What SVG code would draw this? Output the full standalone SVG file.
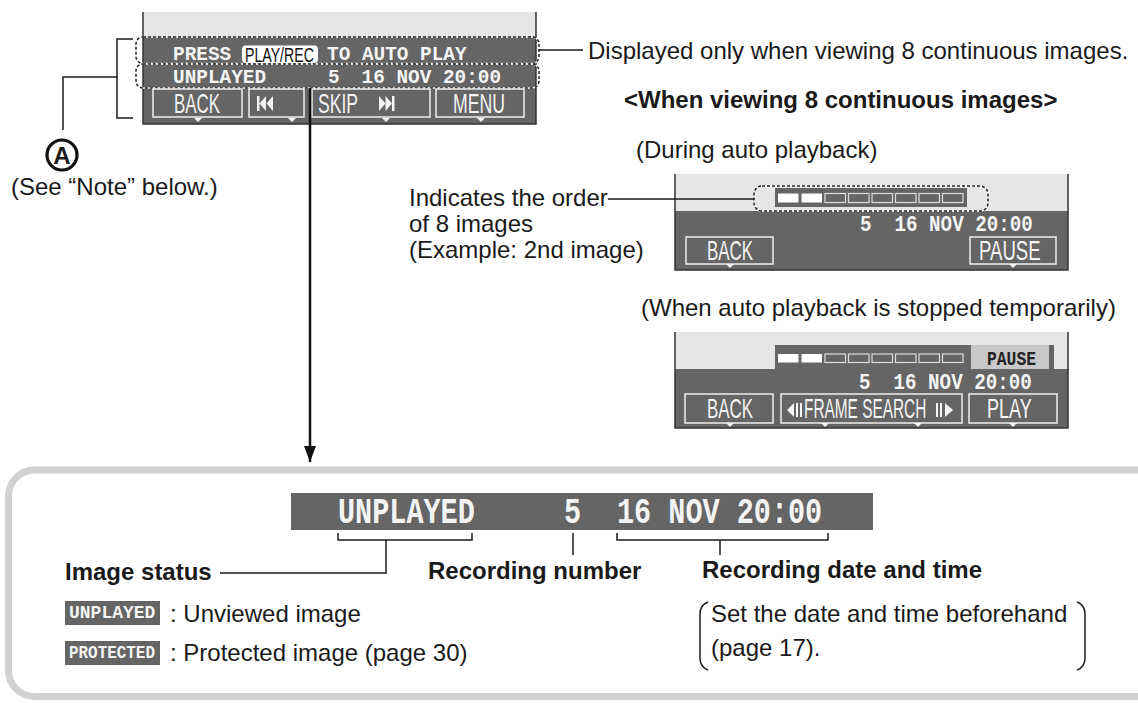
<svg xmlns="http://www.w3.org/2000/svg" width="1138" height="703" viewBox="0 0 1138 703">
<defs>
<style>
.t{font-family:"Liberation Sans",Arial,sans-serif;font-size:24px;fill:#1a1a1a}
.b{font-weight:bold}
.mono{font-family:"Liberation Mono","Courier New",monospace;font-weight:bold;fill:#f4f4f4}
.btn{font-family:"Liberation Sans",Arial,sans-serif;font-size:28px;fill:#f4f4f4}
.scr{fill:#656565}
.top{fill:#e6e6e6}
.edge{fill:none;stroke:#333;stroke-width:1.5}
.bbox{fill:none;stroke:#eeeeee;stroke-width:1.5}
.tri{fill:#f4f4f4}
.ico{fill:#f4f4f4}
.ln{fill:none;stroke:#1a1a1a;stroke-width:1.5}
.dashW{fill:none;stroke:#ffffff;stroke-width:1.5}
.dashK{fill:none;stroke:#222;stroke-width:1.5;stroke-dasharray:3 2}
.cellE{fill:none;stroke:#dddddd;stroke-width:1.2}
.cellF{fill:#ffffff}
</style>
<marker id="ah" viewBox="0 0 16 12" refX="16" refY="6" markerWidth="16" markerHeight="12" markerUnits="userSpaceOnUse" orient="auto">
<path d="M0,0 L16,6 L0,12 z" fill="#111"/>
</marker>
</defs>
<rect width="1138" height="703" fill="#fff"/>

<g id="screen-main">
<rect class="top" x="143" y="12" width="393" height="24"/>
<rect class="scr" x="143" y="36" width="393" height="88"/>
<path class="edge" d="M143,12 V124 H536 V12"/>
<rect class="dashW" x="136" y="37" width="403" height="26.5" rx="7"/>
<rect class="dashK" x="136" y="37" width="403" height="26.5" rx="7"/>
<rect class="dashW" x="136" y="64" width="403" height="24" rx="7"/>
<rect class="dashK" x="136" y="64" width="403" height="24" rx="7"/>
<text class="mono" x="173" y="60" font-size="19.4">PRESS</text>
<rect x="242" y="45.5" width="76" height="17.5" rx="4" fill="#fff"/>
<text class="btn" transform="translate(245,62) scale(0.674,1)" style="fill:#111;font-size:21px">PLAY/REC</text>
<text class="mono" x="327" y="60" font-size="19.4">TO AUTO PLAY</text>
<text class="mono" x="173" y="83" font-size="19.4">UNPLAYED</text>
<text class="mono" x="328" y="83" font-size="19.4">5</text>
<text class="mono" x="361.5" y="83" font-size="19.4">16 NOV 20:00</text>
<rect class="bbox" x="153" y="89" width="89" height="28"/>
<rect class="bbox" x="249" y="89" width="55" height="28"/>
<rect class="bbox" x="312" y="89" width="118" height="28"/>
<rect class="bbox" x="436" y="89" width="88" height="28"/>
<text class="btn" transform="translate(174,113) scale(0.604,1)">BACK</text>
<text class="btn" transform="translate(318,113) scale(0.627,1)">SKIP</text>
<text class="btn" transform="translate(453,113) scale(0.631,1)">MENU</text>
<rect class="ico" x="257" y="96" width="2.5" height="15"/>
<polygon class="ico" points="266,96 266,111 259.5,103.5"/>
<polygon class="ico" points="273,96 273,111 266.5,103.5"/>
<polygon class="ico" points="379,96 379,111 385.5,103.5"/>
<polygon class="ico" points="385.5,96 385.5,111 392,103.5"/>
<rect class="ico" x="392" y="96" width="2.5" height="15"/>
<polygon class="tri" points="194,118 202,118 198,122"/>
<polygon class="tri" points="288,118 296,118 292,122"/>
<polygon class="tri" points="382,118 390,118 386,122"/>
<polygon class="tri" points="477,118 485,118 481,122"/>
</g>

<g id="note-a">
<circle cx="62" cy="155" r="15" fill="none" stroke="#111" stroke-width="3.2"/>
<text class="t b" x="62" y="163.5" text-anchor="middle">A</text>
<text class="t" x="11" y="195">(See “Note” below.)</text>
</g>

<g id="label-displayed">
<text class="t" x="588" y="58.5">Displayed only when viewing 8 continuous images.</text>
</g>
<g id="heading">
<text class="t b" x="624" y="108">&lt;When viewing 8 continuous images&gt;</text>
</g>
<g id="caption-auto">
<text class="t" x="636" y="158">(During auto playback)</text>
</g>

<g id="screen-auto">
<rect class="top" x="675" y="174" width="393" height="37"/>
<rect class="scr" x="675" y="211" width="393" height="59"/>
<path class="edge" d="M675,174 V270 H1068 V174"/>
<rect class="scr" x="775" y="188" width="192" height="19"/>
<rect class="cellF" x="778" y="193.5" width="20.5" height="9"/>
<rect class="cellF" x="801.5" y="193.5" width="20.5" height="9"/>
<rect class="cellE" x="825" y="193.5" width="20.5" height="9"/>
<rect class="cellE" x="848.5" y="193.5" width="20.5" height="9"/>
<rect class="cellE" x="872" y="193.5" width="20.5" height="9"/>
<rect class="cellE" x="895.5" y="193.5" width="20.5" height="9"/>
<rect class="cellE" x="919" y="193.5" width="20.5" height="9"/>
<rect class="cellE" x="942.5" y="193.5" width="20.5" height="9"/>
<rect class="dashW" x="754" y="186" width="234" height="25" rx="8"/>
<rect class="dashK" x="754" y="186" width="234" height="25" rx="8"/>
<text class="mono" transform="translate(860,231) scale(0.843,1)" font-size="22.8">5</text>
<text class="mono" transform="translate(894.5,231) scale(0.843,1)" font-size="22.8">16 NOV 20:00</text>
<rect class="bbox" x="686" y="237" width="87" height="27"/>
<rect class="bbox" x="970" y="237" width="86" height="27"/>
<text class="btn" transform="translate(707,260) scale(0.604,1)">BACK</text>
<text class="btn" transform="translate(979,260) scale(0.664,1)">PAUSE</text>
<polygon class="tri" points="726,264 734,264 730,268"/>
<polygon class="tri" points="1009,264 1017,264 1013,268"/>
</g>

<g id="label-order">
<text class="t" x="409" y="206">Indicates the order</text>
<text class="t" x="409" y="232">of 8 images</text>
<text class="t" x="409" y="258">(Example: 2nd image)</text>
</g>

<g id="caption-paused">
<text class="t" x="641" y="316">(When auto playback is stopped temporarily)</text>
</g>

<g id="screen-paused">
<rect class="top" x="675" y="332" width="393" height="37"/>
<rect class="scr" x="675" y="369" width="393" height="59"/>
<path class="edge" d="M675,332 V428 H1068 V332"/>
<rect class="scr" x="775" y="345" width="196" height="24"/>
<rect x="971" y="345" width="78" height="24" fill="#c8c8c8"/>
<rect class="scr" x="1049" y="345" width="5" height="24"/>
<rect class="cellF" x="778" y="354" width="20.5" height="8.5"/>
<rect class="cellF" x="801.5" y="354" width="20.5" height="8.5"/>
<rect class="cellE" x="825" y="354" width="20.5" height="8.5"/>
<rect class="cellE" x="848.5" y="354" width="20.5" height="8.5"/>
<rect class="cellE" x="872" y="354" width="20.5" height="8.5"/>
<rect class="cellE" x="895.5" y="354" width="20.5" height="8.5"/>
<rect class="cellE" x="919" y="354" width="20.5" height="8.5"/>
<rect class="cellE" x="942.5" y="354" width="20.5" height="8.5"/>
<text class="mono" transform="translate(987,365) scale(0.778,1)" font-size="21" style="fill:#222">PAUSE</text>
<text class="mono" transform="translate(859,389) scale(0.843,1)" font-size="22.8">5</text>
<text class="mono" transform="translate(893.5,389) scale(0.843,1)" font-size="22.8">16 NOV 20:00</text>
<rect class="bbox" x="685" y="394" width="88" height="29"/>
<rect class="bbox" x="781" y="394" width="181" height="29"/>
<rect class="bbox" x="969" y="394" width="88" height="29"/>
<text class="btn" transform="translate(707,418) scale(0.604,1)">BACK</text>
<text class="btn" transform="translate(804,418) scale(0.55,1)">FRAME SEARCH</text>
<text class="btn" transform="translate(987,418) scale(0.642,1)">PLAY</text>
<polygon class="ico" points="787,410 794,403 794,417"/>
<rect class="ico" x="796" y="403" width="2" height="14"/>
<rect class="ico" x="800" y="403" width="2" height="14"/>
<rect class="ico" x="936" y="403" width="2" height="14"/>
<rect class="ico" x="940" y="403" width="2" height="14"/>
<polygon class="ico" points="945,403 945,417 953,410"/>
<polygon class="tri" points="726,423 734,423 730,427"/>
<polygon class="tri" points="821,423 829,423 825,427"/>
<polygon class="tri" points="914,423 922,423 918,427"/>
<polygon class="tri" points="1009,423 1017,423 1013,427"/>
</g>

<g id="detail-panel">
<rect x="8.5" y="470" width="1160" height="226.5" rx="26" fill="none" stroke="#d2d2d2" stroke-width="7"/>
<rect class="scr" x="291" y="493" width="582" height="37"/>
<text class="mono" transform="translate(338,523) scale(0.783,1)" font-size="36.4">UNPLAYED</text>
<text class="mono" transform="translate(564,523) scale(0.783,1)" font-size="36.4">5</text>
<text class="mono" transform="translate(617,523) scale(0.783,1)" font-size="36.4">16 NOV 20:00</text>
</g>

<g id="legend-status">
<text class="t b" x="65" y="580">Image status</text>
<rect class="scr" x="65" y="601" width="95" height="24"/>
<text class="mono" x="69" y="618" font-size="18">UNPLAYED</text>
<text class="t" x="170" y="622">: Unviewed image</text>
<rect class="scr" x="65" y="641" width="95" height="24"/>
<text class="mono" transform="translate(69,658) scale(0.875,1)" font-size="18.2">PROTECTED</text>
<text class="t" x="170" y="661">: Protected image (page 30)</text>
</g>
<g id="legend-number">
<text class="t b" x="428" y="579">Recording number</text>
</g>
<g id="legend-date">
<text class="t b" x="702" y="578">Recording date and time</text>
<text class="t" x="711" y="622">Set the date and time beforehand</text>
<text class="t" x="711" y="656">(page 17).</text>
<path class="ln" d="M708,602 Q700,605 700,614 V658 Q700,667 708,670"/>
<path class="ln" d="M1077,602 Q1085,605 1085,614 V658 Q1085,667 1077,670"/>
</g>

<g id="connectors">
<path class="ln" d="M133,39 H117 V118 H133"/>
<path class="ln" d="M117,77 H63 V130"/>
<line class="ln" x1="539" y1="50" x2="583" y2="50"/>
<line class="ln" x1="608" y1="199" x2="754" y2="199"/>
<line x1="310" y1="88" x2="310" y2="462" stroke="#111" stroke-width="2.5" marker-end="url(#ah)"/>
<path class="ln" d="M338,533 V540 H472 V533"/>
<path class="ln" d="M386,540 V573 H220"/>
<path class="ln" d="M573,533 V555"/>
<path class="ln" d="M617,533 V540 H828 V533"/>
<path class="ln" d="M720,540 V555"/>
</g>
</svg>
